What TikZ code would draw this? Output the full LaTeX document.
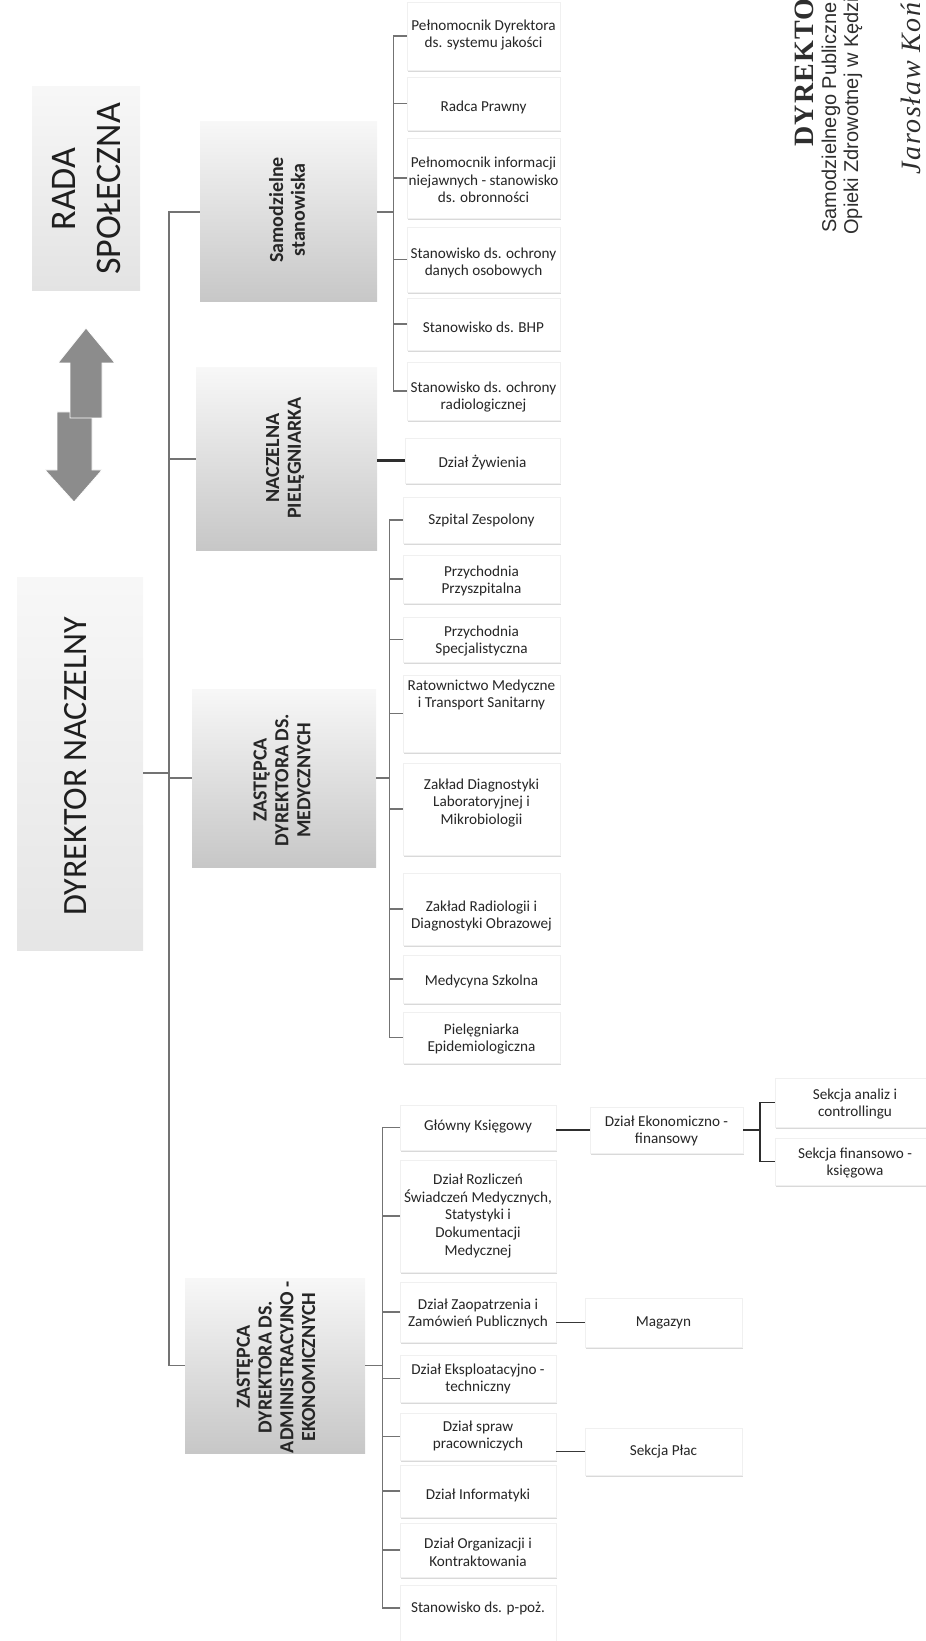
\documentclass[tikz,border=0pt]{standalone}
\usepackage{fontspec}
\setmainfont{Carlito}
\newfontfamily\hdrsans{Liberation Sans}
\newfontfamily\hdrserif[LetterSpace=4]{Liberation Serif}
\newfontfamily\sigserif[LetterSpace=6]{Liberation Serif}
\usetikzlibrary{shadows}
\newcommand\orgbox[7]{%
  \node[cbox, minimum width={(#4-#2)*0.5pt}, minimum height={(#5-#3)*0.5pt}] (#1) at ({(#2+#4)/2},{(#3+#5)/2}) {};
  \node[ctext] (#1t) at ({(#2+#4)/2},#6) {#7};
}
\begin{document}
\begin{tikzpicture}[x=0.5pt,y=-0.5pt,
  conn/.style={draw=black!55, line width=0.6pt},
  thickconn/.style={draw=black!82, line width=1.2pt},
  cbox/.style={draw=black!6, fill=white, line width=0.3pt, inner sep=0pt,
    drop shadow={shadow xshift=0.5pt, shadow yshift=-1.2pt, opacity=0.3}},
  ctext/.style={align=center, font=\fontsize{7.6}{8.8}\selectfont, text=black!85, inner sep=0pt},
  hbox/.style={draw=none, inner sep=0pt, top color=black!3, bottom color=black!22},
  htext/.style={rotate=90, align=center, font=\bfseries\fontsize{10}{10.9}\selectfont, text=black!85, inner sep=0pt},
  bigtext/.style={rotate=90, align=center, text=black!88, inner sep=0pt},
  blockarrow/.style={fill=black!45, draw=white, line width=0.4pt},
  edgetext/.style={rotate=90, anchor=base west, inner sep=0pt, text=black!82}
]
\useasboundingbox (0,0) rectangle (925,1641);

% Rada Spoleczna
\node[hbox, top color=black!3, bottom color=black!11, minimum width={108*0.5pt}, minimum height={204*0.5pt}] (rada) at (86,189) {};
\node[bigtext, font=\fontsize{18}{22.5}\selectfont] (radat) at (87,189) {RADA\\SPOŁECZNA};

% block arrows
\path[blockarrow] (57,412) -- (92,412) -- (92,470) -- (102,470) -- (74,502) -- (45,470) -- (57,470) -- cycle;
\path[blockarrow] (70,418) -- (70,363) -- (58,363) -- (86,328) -- (115,363) -- (102,363) -- (102,418) -- cycle;

% Dyrektor naczelny
\node[hbox, top color=black!3, bottom color=black!10, minimum width={126*0.5pt}, minimum height={373*0.5pt}] (dyr) at (80,763.5) {};
\node[bigtext, font=\fontsize{17}{20}\selectfont] (dyrt) at (76,766) {DYREKTOR NACZELNY};

% second level
\node[hbox, minimum width={177*0.5pt}, minimum height={180*0.5pt}] (samo) at (288.5,212) {};
\node[htext] (samot) at (287,210) {Samodzielne\\stanowiska};
\node[hbox, minimum width={181*0.5pt}, minimum height={182*0.5pt}] (nacz) at (286.5,459) {};
\node[htext] (naczt) at (285,458) {NACZELNA\\PIELĘGNIARKA};
\node[hbox, minimum width={184*0.5pt}, minimum height={178*0.5pt}] (med) at (284,778) {};
\node[htext] (medt) at (282,780) {ZASTĘPCA\\DYREKTORA DS.\\MEDYCZNYCH};
\node[hbox, minimum width={180*0.5pt}, minimum height={175*0.5pt}] (adm) at (275,1365.5) {};
\node[htext] (admt) at (276,1367) {ZASTĘPCA\\DYREKTORA DS.\\ADMINISTRACYJNO -\\EKONOMICZNYCH};

% Samodzielne stanowiska children
\orgbox{S1}{407}{2}{560}{70}{35}{Pełnomocnik Dyrektora\\ds. systemu jakości}
\orgbox{S2}{407}{77}{560}{130}{107}{Radca Prawny}
\orgbox{S3}{407}{138}{560}{218}{180}{Pełnomocnik informacji\\niejawnych - stanowisko\\ds. obronności}
\orgbox{S4}{407}{227}{560}{292}{263}{Stanowisko ds. ochrony\\danych osobowych}
\orgbox{S5}{407}{298}{560}{350}{327}{Stanowisko ds. BHP}
\orgbox{S6}{407}{362}{560}{420}{397}{Stanowisko ds. ochrony\\radiologicznej}

% Naczelna pielegniarka child
\orgbox{zyw}{405}{438}{560}{483}{463}{Dział Żywienia}

% medical children
\orgbox{M1}{403}{497}{560}{543}{520}{Szpital Zespolony}
\orgbox{M2}{403}{555}{560}{603}{581}{Przychodnia\\Przyszpitalna}
\orgbox{M3}{403}{617}{560}{662}{641}{Przychodnia\\Specjalistyczna}
\orgbox{M4}{403}{675}{560}{752}{695}{Ratownictwo Medyczne\\i Transport Sanitarny}
\orgbox{M5}{403}{763}{560}{855}{803}{Zakład Diagnostyki\\Laboratoryjnej i\\Mikrobiologii}
\orgbox{M6}{403}{873}{560}{945}{916}{Zakład Radiologii i\\Diagnostyki Obrazowej}
\orgbox{M7}{403}{955}{560}{1003}{981}{Medycyna Szkolna}
\orgbox{M8}{403}{1012}{560}{1063}{1039}{Pielęgniarka\\Epidemiologiczna}

% administrative children
\orgbox{A1}{400}{1105}{556}{1150}{1127}{Główny Księgowy}
\orgbox{A2}{400}{1160}{556}{1272}{1216}{Dział Rozliczeń\\Świadczeń Medycznych,\\Statystyki i\\Dokumentacji\\Medycznej}
\orgbox{A3}{400}{1282}{556}{1342}{1314}{Dział Zaopatrzenia i\\Zamówień Publicznych}
\orgbox{A4}{400}{1355}{556}{1402}{1379}{Dział Eksploatacyjno -\\techniczny}
\orgbox{A5}{400}{1413}{556}{1460}{1436}{Dział spraw\\pracowniczych}
\orgbox{A6}{400}{1465}{556}{1517}{1495}{Dział Informatyki}
\orgbox{A7}{400}{1523}{556}{1577}{1552}{Dział Organizacji i\\Kontraktowania}
\orgbox{A8}{400}{1585}{556}{1660}{1608}{Stanowisko ds. p-poż.}

% third level
\orgbox{E1}{590}{1107}{743}{1153}{1131}{Dział Ekonomiczno -\\finansowy}
\orgbox{E2}{775}{1078}{935}{1127}{1104}{Sekcja analiz i\\controllingu}
\orgbox{E3}{775}{1138}{935}{1185}{1163}{Sekcja finansowo -\\księgowa}
\orgbox{mag}{585}{1298}{742}{1347}{1323}{Magazyn}
\orgbox{plac}{585}{1428}{742}{1475}{1452}{Sekcja Płac}

% main spine
\coordinate (sp) at (169,773);
\draw[conn] (dyr.east |- sp) -- (sp);
\draw[conn] (sp) |- (samo.west);
\draw[conn] (sp) |- (nacz.west);
\draw[conn] (sp) |- (med.west);
\draw[conn] (sp) |- (adm.west);

% samodzielne spine
\path (samo.east) ++(16,0) coordinate (ssp);
\draw[conn] (samo.east) -- (ssp);
\foreach \n in {S1,S2,S3,S4,S5,S6} \draw[conn] (ssp) |- (\n.west);

% naczelna
\draw[thickconn] (zyw.west -| nacz.east) -- (zyw.west);

% medical spine
\path (med.east) ++(13,0) coordinate (msp);
\draw[conn] (med.east) -- (msp);
\foreach \n in {M1,M2,M3,M4,M5,M6,M7,M8} \draw[conn] (msp) |- (\n.west);

% administrative spine
\path (adm.east) ++(17,0) coordinate (asp);
\draw[conn] (adm.east) -- (asp);
\foreach \n in {A1,A2,A3,A4,A5,A6,A7} \draw[conn] (asp) |- (\n.west);
\draw[conn] (asp) |- (A8.west |- A8t.center);

% third level connectors
\draw[thickconn] (E1.west -| A1.east) -- (E1.west);
\path (E1.east) ++(17,0) coordinate (bsp);
\draw[thickconn, line width=0.9pt] (E1.east) -- (bsp);
\draw[thickconn, line width=0.9pt] (bsp) |- (E2.west);
\draw[thickconn, line width=0.9pt] (bsp) |- (E3.west);
\draw[conn, draw=black!78] (mag.west -| A3.east) -- (mag.west);
\draw[conn, draw=black!78] (plac.west -| A5.east) -- (plac.west);

% stamp text at the top right edge
\node[edgetext, font=\hdrserif\bfseries\fontsize{14}{14}\selectfont] (stamp1) at (813,147) {DYREKTO};
\node[edgetext, font=\hdrsans\fontsize{10}{10}\selectfont] (stamp2) at (836,233) {Samodzielnego Publiczne};
\node[edgetext, font=\hdrsans\fontsize{10}{10}\selectfont] (stamp3) at (858,235) {Opieki Zdrowotnej w Kędzie};
\node[edgetext, font=\sigserif\itshape\fontsize{14}{14}\selectfont] (stamp4) at (920,175) {Jarosław Koń};
\end{tikzpicture}
\end{document}
